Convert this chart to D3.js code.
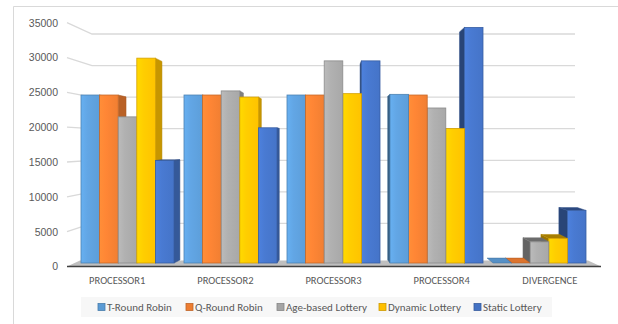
<!DOCTYPE html>
<html>
<head>
<meta charset="utf-8">
<script src="https://cdn.jsdelivr.net/npm/d3@7"></script>
<style>
  body { margin: 0; background: #ffffff; }
  svg { display: block; font-family: Carlito, "Liberation Sans Narrow", "Liberation Sans", sans-serif; }
</style>
</head>
<body>
<div id="chart"></div>
<script>
// chart data
const categories = ["PROCESSOR1", "PROCESSOR2", "PROCESSOR3", "PROCESSOR4", "DIVERGENCE"];
const seriesNames = ["T-Round Robin", "Q-Round Robin", "Age-based Lottery", "Dynamic Lottery", "Static Lottery"];
const tRoundRobin = [24600, 24600, 24600, 24700, 0];
const qRoundRobin = [24600, 24600, 24600, 24600, 0];
const ageBasedLottery = [21400, 25200, 29600, 22700, 3100];
const dynamicLottery = [30000, 24300, 24800, 19700, 3600];
const staticLottery = [15000, 19800, 29600, 34500, 7700];
const yTicks = [0, 5000, 10000, 15000, 20000, 25000, 30000, 35000];
const seriesColours = ["#5b9bd5", "#ed7d31", "#a5a5a5", "#ffc000", "#4472c4"];

const seriesValues = [tRoundRobin, qRoundRobin, ageBasedLottery, dynamicLottery, staticLottery];

const width = 618, height = 324;
const vanishX = 333;   // where bars are seen straight on
const eyeY = 140;      // bar tops above this show their underside

const svg = d3.select("#chart").append("svg")
  .attr("width", width)
  .attr("height", height);

// outer frame
svg.append("path")
  .attr("d", `M13.5,${height}V6.5H${width}`)
  .attr("fill", "none")
  .attr("stroke", "#d9d9d9");

// scales: front plane for labels and bars, back wall for gridlines
const yLabel = d3.scaleLinear().domain([0, 35000]).range([266.5, 22.7]);
const yBack = d3.scaleLinear().domain([0, 35000]).range([255, 34]);
const yBar = d3.scaleLinear().domain([0, 35000]).range([263, 24]);

const x = d3.scaleBand().domain(categories).range([81, 586]).paddingInner(0.097).paddingOuter(0);
const xSub = d3.scaleBand().domain(seriesNames).range([0, x.bandwidth()]).padding(0);

// gradients for the front faces
const defs = svg.append("defs");
seriesColours.forEach((c, i) => {
  const g = defs.append("linearGradient").attr("id", `grad${i}`).attr("x1", 0).attr("x2", 1);
  const base = d3.color(c);
  g.append("stop").attr("offset", "0%").attr("stop-color", base.brighter(0.35));
  g.append("stop").attr("offset", "35%").attr("stop-color", base.brighter(0.2));
  g.append("stop").attr("offset", "100%").attr("stop-color", base.brighter(0.05));
});

// wall gridlines
const grid = svg.append("g");
grid.selectAll("path")
  .data(yTicks.slice(1))
  .enter()
  .append("path")
  .attr("d", (d) => `M67,${yLabel(d)}L92,${yBack(d)}H575`)
  .attr("fill", "none")
  .attr("stroke", "#d9d9d9")
  .attr("stroke-width", 1.3);

// floor
svg.append("path")
  .attr("d", `M67,${yLabel(0)}L601,${yLabel(0)}L588,260.5L80,260.5Z`)
  .attr("fill", "#bfbfbf");
svg.append("line")
  .attr("x1", 67).attr("x2", 601)
  .attr("y1", yLabel(0)).attr("y2", yLabel(0))
  .attr("stroke", "#404040")
  .attr("stroke-width", 1.5);

// y axis labels
const yAxis = svg.append("g")
  .attr("transform", "translate(58,0)")
  .call(d3.axisLeft(yLabel).tickValues(yTicks).tickSize(0).tickPadding(0).tickFormat(d3.format("d")));
yAxis.select(".domain").remove();
yAxis.selectAll("text")
  .attr("fill", "#595959")
  .attr("font-size", "10.5px")
  .attr("font-family", null);

// bars
const bars = [];
categories.forEach((cat, i) => {
  seriesNames.forEach((s, j) => {
    const x0 = x(cat) + xSub(s);
    const x1 = x0 + xSub.bandwidth();
    const yt = yBar(seriesValues[j][i]);
    const yb = yBar(0);
    const cx = (x0 + x1) / 2;
    const dx = -(cx - vanishX) * 0.035;
    const dy = (yt - eyeY) * -0.04;
    bars.push({ cat, j, x0, x1, yt, yb, dx, dy, dist: Math.abs(cx - vanishX) });
  });
});
bars.sort((a, b) => b.dist - a.dist);

const back = svg.append("g");
bars.forEach((b) => {
  const base = d3.color(seriesColours[b.j]);
  const xe = b.dx >= 0 ? b.x1 : b.x0;
  if (Math.abs(b.dx) > 0.3 && b.yb - b.yt > 0.5) {
    back.append("path")
      .attr("d", `M${xe},${b.yt}L${xe + b.dx},${b.yt + b.dy}L${xe + b.dx},${b.yb - 3}L${xe},${b.yb}Z`)
      .attr("fill", base.darker(b.dx < 0 ? 1.4 : 0.7))
      .attr("stroke", base.darker(1))
      .attr("stroke-width", 0.5);
  }
  if (b.dy < 0) {
    back.append("path")
      .attr("d", `M${b.x0},${b.yt}L${b.x1},${b.yt}L${b.x1 + b.dx},${b.yt + b.dy}L${b.x0 + b.dx},${b.yt + b.dy}Z`)
      .attr("fill", b.yb - b.yt < 0.5 ? base.darker(0.2) : base.darker(1.2))
      .attr("stroke", base.darker(1))
      .attr("stroke-width", 0.5);
  }
});

const front = svg.append("g");
front.selectAll("rect")
  .data(bars.filter((b) => b.yb - b.yt > 0.5))
  .enter()
  .append("rect")
  .attr("x", (d) => d.x0)
  .attr("y", (d) => d.yt)
  .attr("width", (d) => d.x1 - d.x0)
  .attr("height", (d) => d.yb - d.yt)
  .attr("fill", (d) => `url(#grad${d.j})`)
  .attr("stroke", (d) => d3.color(seriesColours[d.j]).darker(0.5))
  .attr("stroke-width", 0.8);

// category labels, a little spread out like the front edge of the floor
svg.append("g")
  .selectAll("text")
  .data(categories)
  .enter()
  .append("text")
  .attr("x", (d) => {
    const c = x(d) + x.bandwidth() / 2;
    return c + (c - vanishX) * 0.05;
  })
  .attr("y", 284)
  .attr("text-anchor", "middle")
  .attr("fill", "#595959")
  .attr("font-size", "10.5px")
  .text((d) => d);

// legend
const legendX = [98, 186, 277, 379, 474];
svg.append("rect")
  .attr("x", 81).attr("y", 297)
  .attr("width", 471).attr("height", 20)
  .attr("fill", "#f7f7f7");

const legend = svg.append("g")
  .selectAll("g")
  .data(seriesNames)
  .enter()
  .append("g")
  .attr("transform", (d, i) => `translate(${legendX[i]},307)`);

legend.append("rect")
  .attr("x", 0).attr("y", -3.5)
  .attr("width", 7).attr("height", 7)
  .attr("fill", (d, i) => seriesColours[i])
  .attr("stroke", (d, i) => d3.color(seriesColours[i]).darker(0.6))
  .attr("stroke-width", 0.8);

legend.append("text")
  .attr("x", 9)
  .attr("dy", "0.35em")
  .attr("fill", "#595959")
  .attr("font-size", "11px")
  .text((d) => d);
</script>
</body>
</html>
